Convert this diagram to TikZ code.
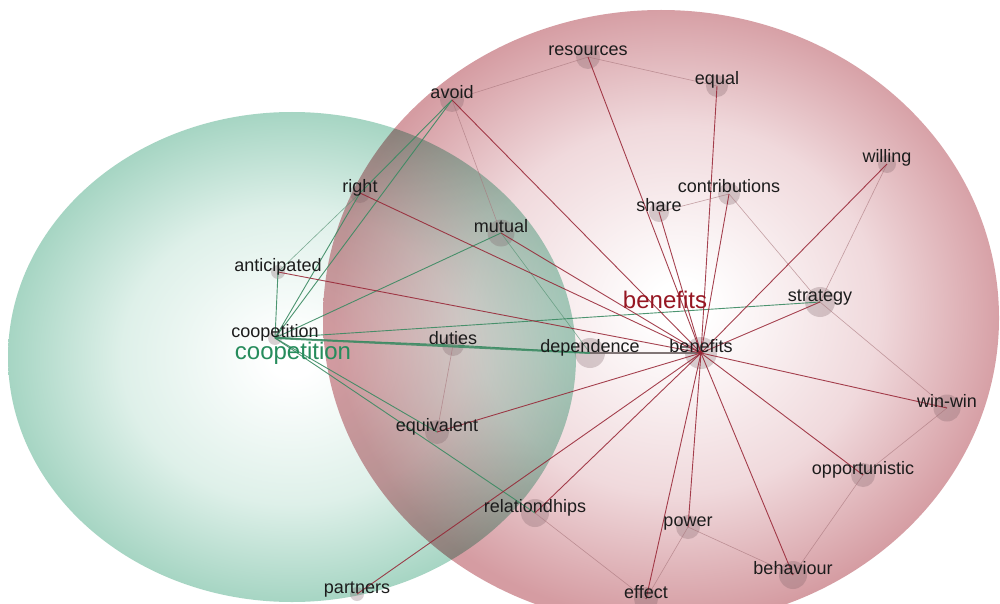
\documentclass[tikz,border=0pt]{standalone}
\usepackage{fontspec}
\setmainfont{Liberation Sans}

% theme colours
\definecolor{gEdge}{RGB}{166,213,195}
\definecolor{gMid}{RGB}{222,240,233}
\definecolor{rEdge}{RGB}{213,156,162}
\definecolor{rMid}{RGB}{240,217,220}
\definecolor{rline}{RGB}{150,34,50}
\definecolor{gline}{RGB}{58,138,98}
\definecolor{tline}{RGB}{168,118,124}
\definecolor{tgline}{RGB}{88,148,118}
\definecolor{thick}{RGB}{108,96,96}
\definecolor{dotc}{RGB}{120,92,98}
\definecolor{lblc}{RGB}{28,28,28}
\definecolor{benc}{RGB}{150,22,34}
\definecolor{cooc}{RGB}{38,140,92}

% theme spheres: white core fading to the theme colour at the rim
\pgfdeclareradialshading{greenball}{\pgfpoint{0bp}{0bp}}{%
  color(0bp)=(white); color(2bp)=(white); color(15bp)=(gMid); color(25bp)=(gEdge); color(50bp)=(gEdge)}
\pgfdeclareradialshading{redball}{\pgfpoint{1.5bp}{1bp}}{%
  color(0bp)=(white); color(2bp)=(white); color(15bp)=(rMid); color(25bp)=(rEdge); color(50bp)=(rEdge)}

\tikzset{
  dot/.style={circle, fill=dotc, fill opacity=0.28, draw=none, inner sep=0pt, minimum size=#1},
  lbl/.style={font=\fontsize{18}{18}\selectfont, text=lblc, inner sep=0pt, anchor=base, yshift=1pt},
  theme/.style={font=\fontsize{24}{24}\selectfont, inner sep=0pt, anchor=base},
  redlink/.style={draw=rline, line width=0.9pt, draw opacity=0.85},
  greenlink/.style={draw=gline, line width=0.9pt, draw opacity=0.9},
  faintlink/.style={draw=tline, line width=0.6pt, draw opacity=0.65},
  faintgreen/.style={draw=tgline, line width=0.6pt, draw opacity=0.75},
  heavylink/.style={line width=2pt, draw opacity=0.85},
}

\begin{document}
\begin{tikzpicture}[x=1pt,y=-1pt]
\useasboundingbox (0,0) rectangle (1000,604);
\clip (0,0) rectangle (1000,604);
\fill[white] (0,0) rectangle (1000,604);

% the two themes, multiplied where they overlap
\begin{scope}[blend group=multiply]
  \shade[shading=greenball] (292,357) ellipse [x radius=284pt, y radius=245pt];
  \shade[shading=redball] (661,318) ellipse [x radius=338pt, y radius=308pt];
\end{scope}

% concept dots
\node[dot=24pt] (res) at (588,57) {};
\node[dot=22pt] (equ) at (717,86) {};
\node[dot=24pt] (avo) at (452,100) {};
\node[dot=18pt] (wil) at (887,164) {};
\node[dot=22pt] (con) at (729,194) {};
\node[dot=20pt] (sha) at (659,212) {};
\node[dot=20pt] (rig) at (360,193) {};
\node[dot=27pt] (mut) at (501,233) {};
\node[dot=14pt] (ant) at (278,272) {};
\node[dot=30pt] (str) at (820,302) {};
\node[dot=14pt] (coo) at (275,338) {};
\node[dot=22pt] (dut) at (453,345) {};
\node[dot=30pt] (dep) at (590,353) {};
\node[dot=32pt] (ben) at (701,353) {};
\node[dot=27pt] (win) at (947,408) {};
\node[dot=24pt] (eqv) at (437,432) {};
\node[dot=24pt] (opp) at (863,475) {};
\node[dot=28pt] (rel) at (535,513) {};
\node[dot=24pt] (pow) at (688,527) {};
\node[dot=28pt] (beh) at (793,575) {};
\node[dot=24pt] (eff) at (646,599) {};
\node[dot=14pt] (par) at (357,594) {};

% faint links between neighbouring concepts
\draw[faintlink] (res.center) -- (avo.center);
\draw[faintlink] (res.center) -- (equ.center);
\draw[faintlink] (avo.center) -- (mut.center);
\draw[faintlink] (con.center) -- (sha.center);
\draw[faintlink] (con.center) -- (str.center);
\draw[faintlink] (str.center) -- (wil.center);
\draw[faintlink] (str.center) -- (win.center);
\draw[faintlink] (win.center) -- (opp.center);
\draw[faintlink] (opp.center) -- (beh.center);
\draw[faintlink] (pow.center) -- (beh.center);
\draw[faintlink] (pow.center) -- (eff.center);
\draw[faintlink] (rel.center) -- (eff.center);
\draw[faintlink] (dut.center) -- (eqv.center);
\draw[faintgreen] (ant.center) -- (rig.center);
\draw[faintgreen] (mut.center) -- (dep.center);

% links of the coopetition theme
\draw[greenlink] (coo.center) -- (ant.center);
\draw[greenlink] (coo.center) -- (rig.center);
\draw[greenlink] (coo.center) -- (avo.center);
\draw[greenlink] (rig.center) -- (avo.center);
\draw[greenlink] (coo.center) -- (mut.center);
\draw[greenlink] (coo.center) -- (str.center);
\draw[greenlink] (coo.center) -- (dut.center);
\draw[greenlink] (dut.center) -- (dep.center);
\draw[greenlink] (coo.center) -- (eqv.center);
\draw[greenlink] (coo.center) -- (rel.center);
\draw[greenlink, heavylink] (coo.center) -- (dep.center);

% links of the benefits theme
\draw[draw=thick, heavylink] (dep.center) -- (ben.center);
\foreach \c in {res,equ,avo,wil,con,sha,str,win,opp,beh,pow,eff,rel,par,eqv,rig,mut,ant}
  \draw[redlink] (ben.center) -- (\c.center);

% concept labels
\node[lbl] (t-res) at (res) {resources};
\node[lbl] (t-equ) at (equ) {equal};
\node[lbl] (t-avo) at (avo) {avoid};
\node[lbl] (t-wil) at (wil) {willing};
\node[lbl] (t-con) at (con) {contributions};
\node[lbl] (t-sha) at (sha) {share};
\node[lbl] (t-rig) at (rig) {right};
\node[lbl] (t-mut) at (mut) {mutual};
\node[lbl] (t-ant) at (ant) {anticipated};
\node[lbl] (t-str) at (str) {strategy};
\node[lbl] (t-coo) at (coo) {coopetition};
\node[lbl] (t-dut) at (dut) {duties};
\node[lbl] (t-dep) at (dep) {dependence};
\node[lbl] (t-ben) at (ben) {benefits};
\node[lbl] (t-win) at (win) {win-win};
\node[lbl] (t-eqv) at (eqv) {equivalent};
\node[lbl] (t-opp) at (opp) {opportunistic};
\node[lbl] (t-rel) at (rel) {relationdhips};
\node[lbl] (t-pow) at (pow) {power};
\node[lbl] (t-beh) at (beh) {behaviour};
\node[lbl] (t-eff) at (eff) {effect};
\node[lbl] (t-par) at (par) {partners};

% theme names
\node[theme, text=benc] (theme-ben) at (665,308) {benefits};
\node[theme, text=cooc] (theme-coo) at (293,359) {coopetition};
\end{tikzpicture}
\end{document}
